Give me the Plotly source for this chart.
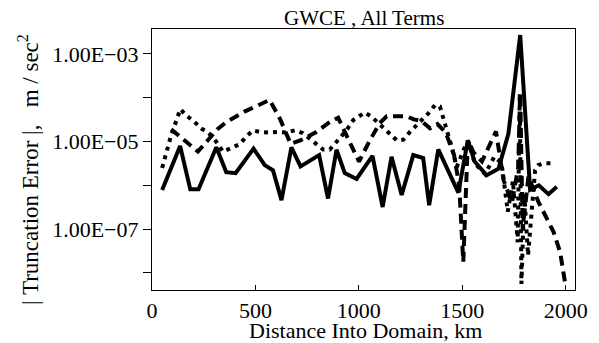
import plotly.graph_objects as go

# ---- data ----
solid_x = [49, 136, 185, 225, 311, 359, 404, 491, 545, 585, 626, 674, 718, 808, 851, 892, 932, 989,
           1066, 1115, 1158, 1207, 1263, 1311, 1340, 1384, 1481, 1527, 1560, 1618, 1675, 1723, 1780,
           1828, 1870, 1917, 1957]
solid_y = [7.8e-7, 7.9e-6, 8.1e-7, 8.1e-7, 7.4e-6, 2.0e-6, 1.9e-6, 6.9e-6, 2.9e-6, 2.2e-6, 4.6e-7,
           7.4e-6, 2.7e-6, 4.9e-6, 5.0e-7, 6.5e-6, 1.9e-6, 1.4e-6, 4.7e-6, 3.2e-7, 4.5e-6, 6.0e-7,
           4.9e-6, 4.2e-6, 3.5e-7, 6.6e-6, 6.8e-7, 1.07e-5, 3.5e-6, 1.7e-6, 2.4e-6, 1.5e-5, 2.7e-3,
           7.9e-7, 1.0e-6, 6.3e-7, 9.3e-7]

dash_x = [93, 136, 182, 222, 270, 315, 360, 405, 450, 500, 545, 569, 620, 670, 720, 790, 860, 900,
          950, 1001, 1050, 1100, 1135, 1230, 1265, 1300, 1344, 1380, 1420, 1460, 1485, 1505, 1527,
          1555, 1595, 1663, 1700, 1740, 1770, 1780, 1792, 1820, 1868, 1941, 1973, 1998]
dash_y = [1.9e-5, 1.3e-5, 8.9e-6, 5.9e-6, 1.07e-5, 1.9e-5, 2.8e-5, 3.8e-5, 4.9e-5, 6.3e-5, 7.9e-5,
          8.9e-5, 3.2e-5, 8.9e-6, 1.07e-5, 1.6e-5, 2.8e-5, 3.5e-5, 1.1e-5, 3.5e-6, 1.0e-5, 2.6e-5,
          3.8e-5, 3.8e-5, 3.2e-5, 3.0e-5, 2.0e-5, 2.5e-5, 1.6e-5, 5.0e-6, 1.0e-6, 1.8e-8, 1.07e-5,
          5.6e-6, 3.5e-6, 1.7e-5, 1.3e-6, 4.0e-7, 2.5e-6, 1.3e-4, 1.0e-7, 1.6e-6, 4.2e-7, 8.7e-8,
          3.0e-8, 5.6e-9]

dot_x = [49, 90, 137, 162, 206, 238, 275, 310, 343, 391, 424, 456, 488, 521, 569, 609, 650, 690, 730,
         780, 827, 860, 892, 940, 973, 1029, 1061, 1102, 1142, 1185, 1215, 1247, 1304, 1336, 1368,
         1392, 1420, 1449, 1473, 1510, 1530, 1560, 1610, 1655, 1690, 1720, 1745, 1768, 1778, 1786,
         1800, 1818, 1852, 1868, 1900, 1949]
dot_y = [2.5e-6, 1.26e-5, 5.5e-5, 4.1e-5, 2.8e-5, 2.0e-5, 1.55e-5, 1.0e-5, 5.9e-6, 7.6e-6, 8.7e-6,
         1.3e-5, 1.8e-5, 1.66e-5, 1.6e-5, 1.66e-5, 1.6e-5, 1.8e-5, 1.55e-5, 1.0e-5, 6.6e-6, 6.6e-6,
         1.0e-5, 1.8e-5, 3.1e-5, 4.6e-5, 3.7e-5, 2.4e-5, 1.55e-5, 1.05e-5, 1.1e-5, 1.66e-5, 3.1e-5,
         4.4e-5, 6.8e-5, 6.3e-5, 2.2e-5, 7.6e-6, 2.6e-6, 7.1e-6, 1.0e-5, 3.2e-6, 1.8e-6, 4.5e-6,
         3.2e-6, 2.5e-7, 1.26e-6, 5.0e-8, 1.26e-4, 5.6e-9, 6.3e-7, 2.5e-8, 2.2e-6, 2.9e-6, 3.2e-6,
         3.2e-6]

x_ticks = [0, 500, 1000, 1500, 2000]
y_ticks = [1e-3, 1e-5, 1e-7]
y_ticktext = ["1.00E\u221203", "1.00E\u221205", "1.00E\u221207"]
y_minor_ticks = [1e-4, 1e-6, 1e-8]

FONT = "Liberation Serif"

fig = go.Figure()
fig.add_trace(go.Scatter(x=dash_x, y=dash_y, mode="lines",
                         line=dict(color="black", width=4, dash="10px,6px")))
fig.add_trace(go.Scatter(x=dot_x, y=dot_y, mode="lines",
                         line=dict(color="black", width=4, dash="4px,5px")))
fig.add_trace(go.Scatter(x=solid_x, y=solid_y, mode="lines",
                         line=dict(color="black", width=4)))

fig.update_layout(
    width=599, height=343,
    margin=dict(l=152, r=24, t=29, b=53),
    paper_bgcolor="white", plot_bgcolor="white",
    showlegend=False,
    font=dict(family=FONT, color="black", size=22),
    xaxis=dict(range=[0, 2045], tickvals=x_ticks, ticks="inside", ticklen=5, tickwidth=1,
               tickcolor="black", showline=True, linecolor="black", linewidth=1.2, mirror=True,
               showgrid=False, zeroline=False, tickfont=dict(size=22, family=FONT)),
    yaxis=dict(type="log", range=[-8.39, -2.43], tickvals=y_ticks, ticktext=y_ticktext,
               ticks="outside", ticklen=8, tickwidth=1, tickcolor="black", showline=True,
               linecolor="black", linewidth=1.2, mirror=True, showgrid=False, zeroline=False,
               tickfont=dict(size=22, family=FONT),
               minor=dict(tickvals=y_minor_ticks, ticks="outside", ticklen=8, tickwidth=1,
                          tickcolor="black", showgrid=False)),
    annotations=[
        dict(text="GWCE , All Terms", xref="paper", yref="paper", x=0.5, y=(290 - 18) / 261,
             xanchor="center", yanchor="middle", showarrow=False, font=dict(size=21, family=FONT)),
        dict(text="Distance Into Domain, km", xref="paper", yref="paper", x=(365 - 152) / 423,
             y=(290 - 330) / 261, xanchor="center", yanchor="middle", showarrow=False,
             font=dict(size=22, family=FONT)),
        dict(text="| Truncation Error |,\u00a0\u00a0 m / sec<sup>2</sup>", xref="paper", yref="paper",
             x=(28 - 152) / 423, y=(290 - 170) / 261, xanchor="center", yanchor="middle",
             textangle=-90, showarrow=False, font=dict(size=23, family=FONT)),
    ],
)

fig.write_html("out.html")
